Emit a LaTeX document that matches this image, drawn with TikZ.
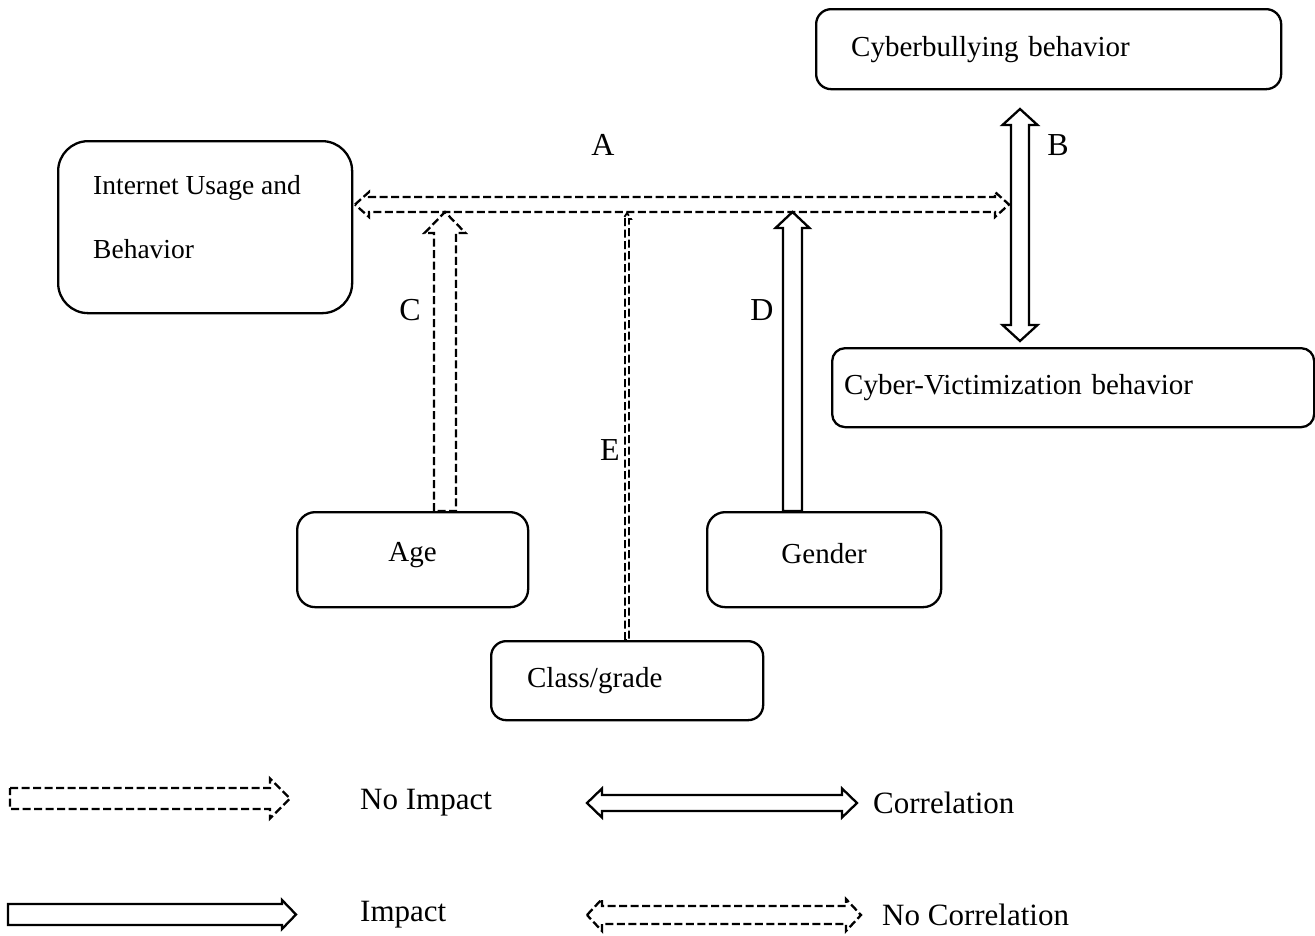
\documentclass[tikz,border=0pt]{standalone}
\usepackage{fontspec}
\setmainfont{Liberation Serif}
\newcommand{\uparr}[7]{\draw[#1] (#2-#5,#3) -- (#2-#5,#4+#7) -- (#2-#6,#4+#7) -- (#2,#4) -- (#2+#6,#4+#7) -- (#2+#5,#4+#7) -- (#2+#5,#3) -- cycle;}
\newcommand{\rarr}[7]{\draw[#1] (#2,#4-#5) -- (#3-#7,#4-#5) -- (#3-#7,#4-#6) -- (#3,#4) -- (#3-#7,#4+#6) -- (#3-#7,#4+#5) -- (#2,#4+#5) -- cycle;}
\newcommand{\hdarr}[7]{\draw[#1] (#2,#4) -- (#2+#7,#4-#6) -- (#2+#7,#4-#5) -- (#3-#7,#4-#5) -- (#3-#7,#4-#6) -- (#3,#4) -- (#3-#7,#4+#6) -- (#3-#7,#4+#5) -- (#2+#7,#4+#5) -- (#2+#7,#4+#6) -- cycle;}
\newcommand{\vdarr}[7]{\draw[#1] (#2,#3) -- (#2+#6,#3+#7) -- (#2+#5,#3+#7) -- (#2+#5,#4-#7) -- (#2+#6,#4-#7) -- (#2,#4) -- (#2-#6,#4-#7) -- (#2-#5,#4-#7) -- (#2-#5,#3+#7) -- (#2-#6,#3+#7) -- cycle;}
\tikzset{
  box/.style={draw, line width=2.3pt, anchor=north west, inner ysep=0pt, font=\fontsize{29}{35}\selectfont},
  lbl/.style={font=\fontsize{32}{38}\selectfont, inner sep=0pt},
  legtxt/.style={font=\fontsize{31}{37}\selectfont, anchor=west, inner sep=0pt},
  solidarr/.style={line width=2.3pt, line join=miter},
  dasharr/.style={line width=2.3pt, line join=miter, dash pattern=on 8pt off 3.5pt},
  thindash/.style={line width=1.8pt, line join=miter, dash pattern=on 8pt off 3.5pt},
}
\begin{document}
\begin{tikzpicture}[x=1pt,y=-1pt]
\useasboundingbox (0,0) rectangle (1315,935);
% boxes
\node[box, rounded corners=15pt, minimum width=465pt, minimum height=80pt, inner xsep=35pt, text width=395pt, align=left] (cb) at (815,8) {Cyberbullying behavior};
\node[box, rounded corners=30pt, minimum width=294pt, minimum height=172pt] (iu) at (57,140) {};
\node[anchor=west, align=left, inner sep=0pt, font=\fontsize{27.5}{64}\selectfont] (iut) at (93,217) {Internet Usage and\\Behavior};
\node[box, rounded corners=13pt, minimum width=482pt, minimum height=79pt, inner xsep=12pt, text width=458pt, align=left] (cv) at (831,347) {Cyber-Victimization behavior};
\node[box, rounded corners=18pt, minimum width=231pt, minimum height=95pt, align=center, text depth=16pt] (age) at (296,511) {Age};
\node[box, rounded corners=18pt, minimum width=234pt, minimum height=95pt, align=center, text depth=12pt] (gender) at (706,511) {Gender};
\node[box, rounded corners=15pt, minimum width=272pt, minimum height=79pt, inner xsep=36pt, text width=200pt, align=left] (cls) at (490,640) {Class/grade};
% connectors
\hdarr{dasharr}{355}{1009}{204.5}{7.5}{12.5}{14}
\uparr{dasharr}{445}{511}{212}{11}{20.5}{21}
\uparr{thindash}{627}{640}{213}{2}{4}{6}
\uparr{solidarr}{792.5}{511}{212}{9.5}{17}{16}
\vdarr{solidarr}{1020}{109}{341}{9}{17.5}{16}
% labels
\node[lbl] (la) at (603,145) {A};
\node[lbl] (lb) at (1058,145) {B};
\node[lbl] (lc) at (410,310) {C};
\node[lbl] (ld) at (762,310) {D};
\node[lbl] (le) at (610,450) {E};
% legend
\rarr{dasharr}{10}{290}{798.5}{10.5}{20}{20}
\rarr{solidarr}{8}{296}{914.5}{10.5}{14.5}{14}
\hdarr{solidarr}{587}{857}{803}{8}{14.5}{15}
\hdarr{dasharr}{587}{861}{915}{9}{16}{15}
\node[legtxt] (t1) at (360,803) {No Impact};
\node[legtxt] (t2) at (360,915) {Impact};
\node[legtxt] (t3) at (873,803) {Correlation};
\node[legtxt] (t4) at (882,915) {No Correlation};
\end{tikzpicture}
\end{document}
